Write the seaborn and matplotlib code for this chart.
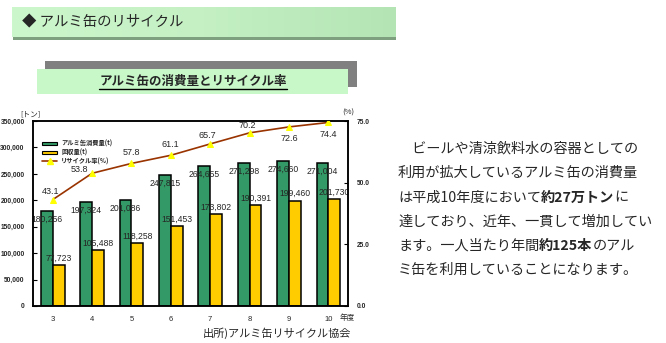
import numpy as np
import pandas as pd
import matplotlib
matplotlib.use("Agg")
import matplotlib.pyplot as plt
from matplotlib.patches import Rectangle, Patch
from matplotlib.lines import Line2D
from matplotlib.colors import LinearSegmentedColormap
import seaborn as sns

# ---------------- data ----------------
years = ["3", "4", "5", "6", "7", "8", "9", "10"]
consumption = [180256, 197324, 201086, 247815, 264655, 271298, 274660, 271004]
recovered = [77723, 105488, 118258, 151453, 173802, 190391, 199460, 201730]
recycle_rate = [43.1, 53.8, 57.8, 61.1, 65.7, 70.2, 72.6, 74.4]
series_names = ["アルミ缶消費量(t)", "回収量(t)", "リサイクル率(%)"]
left_ticks = [0, 50000, 100000, 150000, 200000, 250000, 300000, 350000]
right_ticks = [0, 25, 50, 75]

title_main = "◆ アルミ缶のリサイクル"
title_chart = "アルミ缶の消費量とリサイクル率"
source_text = "出所)アルミ缶リサイクル協会"
para_lines = [
    [("　ビールや清涼飲料水の容器としての", False)],
    [("利用が拡大しているアルミ缶の消費量", False)],
    [("は平成10年度において", False), ("約27万トン", True), ("に", False)],
    [("達しており、近年、一貫して増加してい", False)],
    [("ます。一人当たり年間", False), ("約125本", True), ("のアル", False)],
    [("ミ缶を利用していることになります。", False)],
]

sns.set_theme(style="white")
JP = ["Noto Sans CJK JP", "DejaVu Sans"]
NARROW = ["Liberation Sans Narrow", "Liberation Sans", "DejaVu Sans"]
plt.rcParams["font.family"] = JP

W, H = 666, 343
fig = plt.figure(figsize=(W / 100, H / 100), dpi=100)
fig.patch.set_facecolor("white")

# background/pixel axes
bg = fig.add_axes([0, 0, 1, 1], zorder=0)
bg.set_xlim(0, W)
bg.set_ylim(H, 0)
bg.axis("off")

# top banner with gradient
grad = np.linspace(0, 1, 256).reshape(1, -1)
cmap = LinearSegmentedColormap.from_list("g", ["#ccf7cc", "#c4f0c4", "#b4e4b4"])
bg.add_patch(Rectangle((13, 37), 383, 3, color="#7fa07f", lw=0))
bg.imshow(grad, extent=(12, 396, 37, 7), cmap=cmap, aspect="auto", zorder=1)
bg.text(22, 22, title_main, fontsize=10.4, va="center", ha="left", family=JP, zorder=3)

# chart title banner
bg.add_patch(Rectangle((45, 61), 312, 26, color="#808080", lw=0, zorder=1))
bg.add_patch(Rectangle((37, 69), 311, 25, color="#c8f8c8", lw=0, zorder=2))
tt = bg.text(193, 82, title_chart, fontsize=9, fontweight="bold", va="center",
             ha="center", family=JP, zorder=3)

# ---------------- chart ----------------
ax = fig.add_axes([33 / W, 1 - 306 / H, (348 - 33) / W, (306 - 121) / H], zorder=2)
ax.set_facecolor("none")
df = pd.DataFrame({
    "year": years * 2,
    "value": consumption + recovered,
    "series": [series_names[0]] * len(years) + [series_names[1]] * len(years),
})
green, yellow, brown = "#339966", "#ffcc00", "#993300"
sns.barplot(data=df, x="year", y="value", hue="series", ax=ax,
            palette=[green, yellow], width=0.6, gap=0, legend=False,
            edgecolor="black", linewidth=1.1, saturation=1)
ax.set_xlim(-0.5, len(years) - 0.5)
ax.set_ylim(0, 350000)
ax.set_yticks(left_ticks)
ax.set_yticklabels([f"{v:,}" for v in left_ticks], fontsize=4.8, fontweight="bold", family=NARROW)
ax.set_xlabel("")
ax.set_ylabel("")
ax.set_xticks(range(len(years)))
ax.set_xticklabels(years, fontsize=5.5, family=NARROW)
ax.set_xticks(np.arange(len(years) + 1) - 0.5, minor=True)
ax.tick_params(axis="x", which="major", length=0, pad=7)
ax.tick_params(axis="x", which="minor", direction="in", length=3, width=0.8, color="black")
ax.tick_params(axis="y", direction="in", length=3, width=0.8, color="black", pad=6, left=True)
for s in ax.spines.values():
    s.set_color("black")
    s.set_linewidth(1.1)

# bar labels
conts = ax.containers
for rect, v in zip(conts[0], consumption):
    ax.annotate(f"{v:,}", (rect.get_x() + rect.get_width() / 2, rect.get_height()),
                xytext=(0, -6), textcoords="offset points", ha="center", va="center",
                fontsize=6.2, family=NARROW, zorder=5)
for rect, v in zip(conts[1], recovered):
    ax.annotate(f"{v:,}", (rect.get_x() + rect.get_width() / 2, rect.get_height()),
                xytext=(0, 5), textcoords="offset points", ha="center", va="center",
                fontsize=6.2, family=NARROW, zorder=5)

ax2 = ax.twinx()
sns.lineplot(x=np.arange(len(years)), y=recycle_rate, ax=ax2, color=brown, lw=1.2,
             marker="^", markersize=5, markerfacecolor="#ffff00",
             markeredgecolor="#ffff00", zorder=4)
ax2.set_ylim(0, 75)
ax2.set_yticks(right_ticks)
ax2.set_yticklabels([f"{v:.1f}" for v in right_ticks], fontsize=4.8, fontweight="bold", family=NARROW)
ax2.tick_params(axis="y", direction="in", length=3, width=0.8, color="black", pad=6, right=True)
ax2.set_ylabel("")
ax2.grid(False)
for s in ax2.spines.values():
    s.set_color("black")
    s.set_linewidth(1.1)

rate_offsets = [(-1.5, 6), (-9, 2.5), (0, 8), (0, 8), (-2, 6), (-1.5, 5.5), (0, -8), (0, -8.5)]
for i, (r, off) in enumerate(zip(recycle_rate, rate_offsets)):
    ax2.annotate(f"{r:.1f}", (i, r), xytext=off, textcoords="offset points",
                 ha="center", va="center", fontsize=6.5, family=NARROW, zorder=6)

handles = [Patch(facecolor=green, edgecolor="black", lw=0.8),
           Patch(facecolor=yellow, edgecolor="black", lw=0.8),
           Line2D([], [], color=brown, lw=1.2, marker="^", markersize=4,
                  markerfacecolor="#ffff00", markeredgecolor="#ffff00")]
ax2.legend(handles, series_names, loc="upper left", bbox_to_anchor=(0.02, 0.915),
           frameon=False, handlelength=2.4, handleheight=0.5,
           labelspacing=0.2, borderpad=0, handletextpad=0.6,
           prop={"family": JP, "size": 4.5, "weight": "bold"})

# axis unit labels
bg.text(30, 114, "[トン]", fontsize=5.5, ha="center", va="center", family=JP, zorder=3)
bg.text(348, 113, "(%)", fontsize=5.5, ha="center", va="center", family=JP, zorder=3)
bg.text(347, 318, "年度", fontsize=5.5, ha="center", va="center", family=JP, zorder=3)
bg.text(351, 333, source_text, fontsize=8, ha="right", va="center", family=JP, zorder=3)

# paragraph with bold runs
fig.canvas.draw()
renderer = fig.canvas.get_renderer()
line_y = [148, 173, 197.5, 222, 246, 270]
for y, segs in zip(line_y, para_lines):
    x = 398
    for txt, bold in segs:
        t = bg.text(x, y, txt, fontsize=10.2, fontweight="bold" if bold else "normal",
                    ha="left", va="center", family=JP, zorder=3)
        bb = t.get_window_extent(renderer)
        x += bb.width

# underline chart title
bb = tt.get_window_extent(renderer)
bg.plot([bb.x0, bb.x1], [H - bb.y0 + 0.5, H - bb.y0 + 0.5], color="black", lw=1, zorder=3)

fig.savefig("out.png", dpi=100)
